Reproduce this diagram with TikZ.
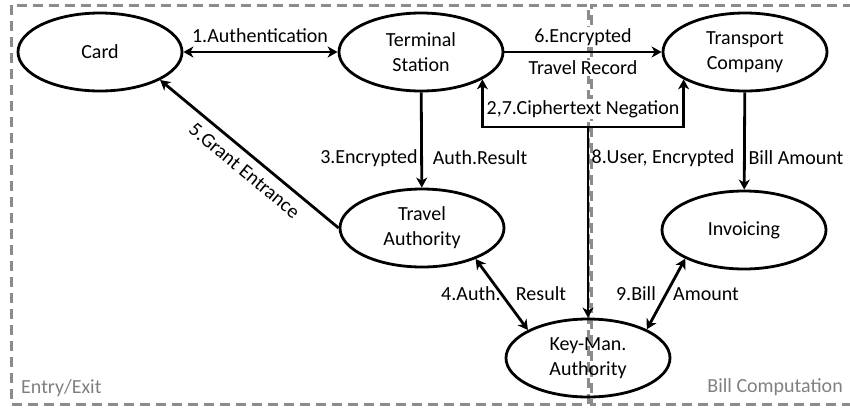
\documentclass[tikz,border=0pt]{standalone}
\usepackage{fontspec}
\setmainfont{Carlito}
\usetikzlibrary{shapes.geometric,arrows.meta,calc}
\definecolor{boxgray}{RGB}{140,140,140}
\definecolor{labgray}{RGB}{128,128,128}
\tikzset{
  ent/.style={ellipse, draw, line width=2.8pt, minimum width=164pt, minimum height=78pt, inner sep=0pt, align=center, font=\fontsize{20}{25}\selectfont},
  conn/.style={line width=2.8pt, arrows={-Stealth[length=10pt,width=11pt,inset=3pt]}},
  dconn/.style={line width=2.8pt, arrows={Stealth[length=10pt,width=11pt,inset=3pt]-Stealth[length=10pt,width=11pt,inset=3pt]}},
  lab/.style={inner sep=1pt, font=\fontsize{20}{24}\selectfont},
  wlab/.style={lab, fill=white},
  zone/.style={draw=boxgray, line width=3pt, dash pattern=on 10pt off 6pt},
  zlab/.style={inner sep=0pt, text=labgray, font=\fontsize{20}{24}\selectfont}
}
\begin{document}
\begin{tikzpicture}[x=1pt,y=-1pt]
\useasboundingbox (0,0) rectangle (850,410);
% zones
\draw[zone] (11,5) rectangle (588,404);
\draw[zone] (853,5) -- (591,5) -- (591,404) -- (853,404);
\node[zlab, anchor=west] (zee) at (21,388) {Entry/Exit};
\node[zlab, anchor=east] (zbc) at (843,387) {Bill Computation};
% entities
\node[ent] (card) at (100,52) {Card};
\node[ent] (term) at (421,52) {Terminal\\Station};
\node[ent] (tc) at (745,52) {Transport\\Company};
\node[ent] (ta) at (422,228) {Travel\\Authority};
\node[ent] (inv) at (744,230) {Invoicing};
\node[ent] (km) at (588,358) {Key-Man.\\Authority};
\coordinate (j) at (588,127);
% connectors
\draw[dconn] (card) -- (term);
\node[lab] (l1) at (260,36) {1.Authentication};
\draw[conn] (term) -- (tc);
\node[wlab] (l6a) at (583,37) {6.Encrypted};
\node[wlab] (l6b) at (583,68) {Travel Record};
\draw[dconn] (term.-24) -- (term.-24 |- j) -- (tc.-156 |- j) -- (tc.-156);
\node[wlab] (l27) at (583,109) {2,7.Ciphertext Negation};
\draw[conn] (j) -- (j |- km.north);
\node[lab] (l8) at (663,158) {8.User, Encrypted};
\draw[conn] (tc) -- (inv);
\node[lab] (l8b) at (796,158) {Bill Amount};
\draw[conn] (term) -- (ta);
\node[lab] (l3a) at (369,158) {3.Encrypted};
\node[lab] (l3b) at (480,158) {Auth.Result};
\draw[conn] (ta.west) -- node[lab, sloped, below=7pt, pos=0.47] (l5) {5.Grant Entrance} (card.-25);
\draw[dconn] (ta.-30) -- (km.155);
\node[lab] (l4a) at (471,294) {4.Auth.};
\node[lab] (l4b) at (541,294) {Result};
\draw[dconn] (inv.-154) -- (km.26);
\node[lab] (l9a) at (636,294) {9.Bill};
\node[lab] (l9b) at (706,294) {Amount};
\end{tikzpicture}
\end{document}
